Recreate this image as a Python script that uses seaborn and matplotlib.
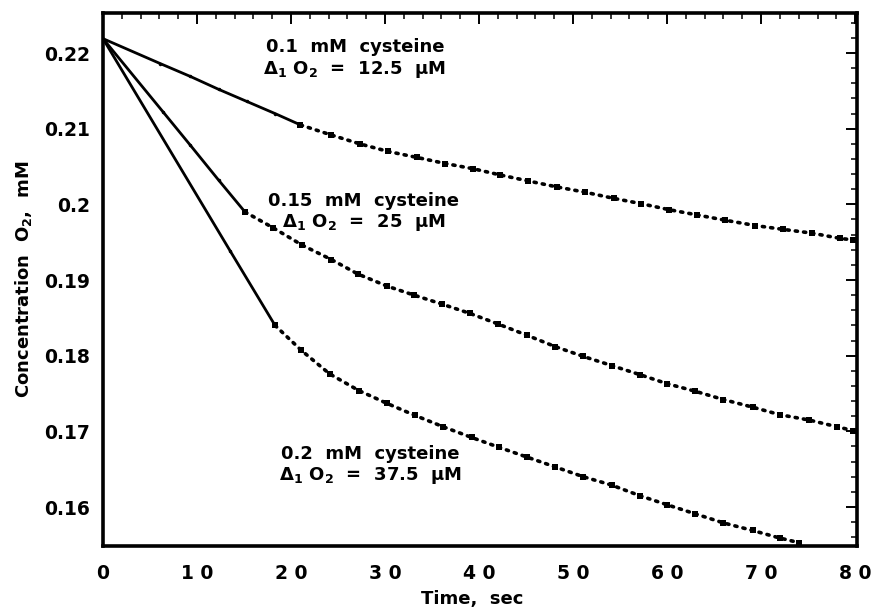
import numpy as np
import pandas as pd
import matplotlib
matplotlib.use("Agg")
import matplotlib.pyplot as plt
import seaborn as sns

# ---- data ----
t1_solid = [0, 6.1, 9.3, 12.3, 15.3, 18.3, 21.0]
c1_solid = [0.2219, 0.2186, 0.2169, 0.2152, 0.2136, 0.2120, 0.2105]
t1_dot = [21.0, 24.2, 27.3, 30.3, 33.4, 36.4, 39.4, 42.2, 45.2, 48.3, 51.3, 54.3,
          57.2, 60.2, 63.2, 66.2, 69.4, 72.3, 75.4, 78.4, 79.8]
c1_dot = [0.2105, 0.2092, 0.2080, 0.2070, 0.2062, 0.2054, 0.2047, 0.2039, 0.2031,
          0.2023, 0.2016, 0.2008, 0.2001, 0.1993, 0.1986, 0.1979, 0.1972, 0.1967,
          0.1962, 0.1955, 0.1953]

t2_solid = [0, 6.4, 9.3, 12.3, 15.1]
c2_solid = [0.2219, 0.2122, 0.2078, 0.2032, 0.1990]
t2_dot = [15.1, 18.1, 21.2, 24.3, 27.1, 30.2, 33.1, 36.1, 39.0, 42.0, 45.1, 48.1,
          51.1, 54.1, 57.1, 60.0, 63.0, 66.0, 69.1, 72.0, 75.1, 78.1, 79.8]
c2_dot = [0.1990, 0.1969, 0.1946, 0.1927, 0.1908, 0.1892, 0.1880, 0.1868, 0.1856,
          0.1842, 0.1827, 0.1812, 0.1799, 0.1787, 0.1775, 0.1763, 0.1753, 0.1742,
          0.1732, 0.1722, 0.1715, 0.1706, 0.1701]

t3_solid = [0, 13.5, 18.3]
c3_solid = [0.2219, 0.1939, 0.1840]
t3_dot = [18.3, 21.1, 24.1, 27.2, 30.2, 33.2, 36.2, 39.2, 42.1, 45.1, 48.1, 51.1,
          54.1, 57.1, 60.0, 63.0, 66.0, 69.1, 72.0, 74.0]
c3_dot = [0.1840, 0.1807, 0.1776, 0.1754, 0.1737, 0.1721, 0.1706, 0.1692, 0.1679,
          0.1666, 0.1653, 0.1640, 0.1629, 0.1615, 0.1603, 0.1591, 0.1579, 0.1569,
          0.1559, 0.1553]

labels = [
    ("0.1  mM  cysteine", r"$\Delta_1$ O$_2$  =  12.5  $\mu$M"),
    ("0.15  mM  cysteine", r"$\Delta_1$ O$_2$  =  25  $\mu$M"),
    ("0.2  mM  cysteine", r"$\Delta_1$ O$_2$  =  37.5  $\mu$M"),
]
label_xy = [(26.8, 0.2192), (27.7, 0.1989), (28.4, 0.1655)]

xticks = [0, 10, 20, 30, 40, 50, 60, 70, 80]
xticklabels = ["0", "1 0", "2 0", "3 0", "4 0", "5 0", "6 0", "7 0", "8 0"]
yticks = [0.16, 0.17, 0.18, 0.19, 0.20, 0.21, 0.22]
yticklabels = ["0.16", "0.17", "0.18", "0.19", "0.2", "0.21", "0.22"]

sns.set_style("white")
plt.rcParams["font.family"] = ["DejaVu Sans"]
plt.rcParams["font.weight"] = "bold"
plt.rcParams["text.color"] = "black"
plt.rcParams["axes.labelcolor"] = "black"
plt.rcParams["xtick.color"] = "black"
plt.rcParams["ytick.color"] = "black"
plt.rcParams["mathtext.fontset"] = "custom"
plt.rcParams["mathtext.rm"] = "DejaVu Sans:bold"
plt.rcParams["mathtext.it"] = "DejaVu Sans:bold"
plt.rcParams["mathtext.bf"] = "DejaVu Sans:bold"
plt.rcParams["mathtext.sf"] = "DejaVu Sans:bold"
plt.rcParams["mathtext.default"] = "regular"

fig = plt.figure(figsize=(8.78, 6.09), dpi=100)
ax = fig.add_axes([103 / 878, 1 - 546 / 609, (857 - 103) / 878, (546 - 13) / 609])

solid_sets = [(t1_solid, c1_solid), (t2_solid, c2_solid), (t3_solid, c3_solid)]
dot_sets = [(t1_dot, c1_dot), (t2_dot, c2_dot), (t3_dot, c3_dot)]

for t, c in solid_sets:
    df = pd.DataFrame({"t": t, "c": c})
    sns.lineplot(data=df, x="t", y="c", ax=ax, color="black", lw=2.0,
                 estimator=None, sort=False, marker="o", markersize=2.5,
                 markeredgewidth=0)
for t, c in dot_sets:
    df = pd.DataFrame({"t": t, "c": c})
    sns.lineplot(data=df, x="t", y="c", ax=ax, color="black", lw=2.6,
                 estimator=None, sort=False, marker="s", markersize=4.2,
                 markeredgewidth=0, dashes=False, linestyle=(0, (0.6, 1.7)),
                 dash_capstyle="round")

for (l1, l2), (x, y) in zip(labels, label_xy):
    ax.text(x, y, l1 + "\n" + l2, ha="center", va="center", fontsize=13,
            fontweight="bold", linespacing=1.15, color="black")

ax.set_xlim(0, 80.2)
ax.set_ylim(0.15485, 0.22529)
ax.set_xticks(xticks)
ax.set_xticklabels(xticklabels)
ax.set_yticks(yticks)
ax.set_yticklabels(yticklabels)
ax.xaxis.set_minor_locator(matplotlib.ticker.MultipleLocator(2))
ax.yaxis.set_minor_locator(matplotlib.ticker.MultipleLocator(0.002))
ax.tick_params(which="major", direction="in", length=8, width=1.4,
               top=True, right=True, labelsize=13.5, colors="black")
ax.tick_params(which="minor", direction="in", length=4, width=1.1,
               top=True, right=True, colors="black")
ax.tick_params(axis="y", which="major", pad=9)
ax.tick_params(axis="x", which="major", pad=13)
for lab in ax.get_xticklabels() + ax.get_yticklabels():
    lab.set_fontweight("bold")
for sp in ax.spines.values():
    sp.set_linewidth(2.6)
    sp.set_color("black")

ax.set_xlabel("Time,  sec", fontsize=13, fontweight="bold", color="black")
ax.set_ylabel(r"Concentration  O$_2$,  mM", fontsize=13, fontweight="bold",
              color="black")
ax.xaxis.set_label_coords(0.49, -0.083)
ax.yaxis.set_label_coords(-0.092, 0.5)

fig.savefig("out.png", dpi=100)
